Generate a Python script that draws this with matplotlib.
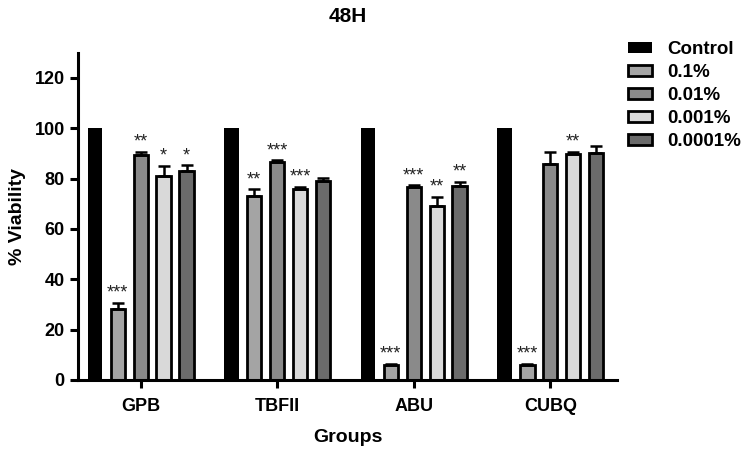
import numpy as np
import matplotlib.pyplot as plt

plt.rcParams['font.family'] = ['Liberation Sans', 'DejaVu Sans']
plt.rcParams['font.weight'] = 'bold'

groups = ['GPB', 'TBFII', 'ABU', 'CUBQ']
series = ['Control', '0.1%', '0.01%', '0.001%', '0.0001%']
colors = ['#000000', '#a4a4a4', '#8a8a8a', '#d9d9d9', '#6b6b6b']

values = [
    [100, 100, 100, 100],
    [28.3, 73.1, 6.0, 6.0],
    [89.3, 86.7, 76.7, 86.0],
    [81.1, 76.0, 69.3, 89.9],
    [82.9, 79.1, 76.9, 90.1],
]
errors = [
    [0, 0, 0, 0],
    [2.4, 2.6, 0.5, 0.5],
    [1.2, 0.6, 0.6, 4.7],
    [4.0, 0.8, 3.4, 0.8],
    [2.4, 1.3, 1.8, 2.9],
]
stars = [
    ['', '', '', ''],
    ['***', '**', '***', '***'],
    ['**', '***', '***', ''],
    ['*', '***', '**', '**'],
    ['*', '', '**', ''],
]

fig = plt.figure(figsize=(7.49, 4.5), dpi=100)
ax = fig.add_axes([0.104, 0.1556, 0.72, 0.727])

x = np.arange(len(groups))
step = 0.168
width = 0.105
for i, name in enumerate(series):
    pos = x + (i - 2) * step
    if i == 0:
        ax.bar(pos, values[i], width, color=colors[i], edgecolor='black',
               linewidth=0, label=name, zorder=2)
    else:
        ax.bar(pos, values[i], width, color=colors[i], edgecolor='black',
               linewidth=2, label=name, zorder=2)
        ax.errorbar(pos, values[i], yerr=[np.zeros(4), errors[i]], fmt='none',
                    ecolor='black', elinewidth=1.8, capsize=4, capthick=1.8,
                    zorder=3)
    for j in range(len(groups)):
        if stars[i][j]:
            ax.text(pos[j], values[i][j] + errors[i][j] + 0.5, stars[i][j],
                    ha='center', va='bottom', fontsize=13, color='#222222',
                    fontweight='normal')

ax.set_xlim(-0.46, 3.49)
ax.set_ylim(0, 130)
ax.set_yticks([0, 20, 40, 60, 80, 100, 120])
ax.set_xticks(x)
ax.set_xticklabels(groups)
for side in ['top', 'right']:
    ax.spines[side].set_visible(False)
for side in ['left', 'bottom']:
    ax.spines[side].set_linewidth(2.2)
ax.tick_params(width=2.2, length=6, labelsize=13)
ax.tick_params(axis='x', pad=7)
ax.set_ylabel('% Viability', fontsize=14, fontweight='bold', labelpad=6)
ax.set_xlabel('Groups', fontsize=14, fontweight='bold', labelpad=10)
ax.set_title('48H', fontsize=15, fontweight='bold', pad=22)

leg = ax.legend(loc='upper left', bbox_to_anchor=(1.02, 1.035), frameon=False,
                fontsize=13.5, handlelength=1.3, handleheight=0.5,
                labelspacing=0.32, handletextpad=0.8, borderpad=0,
                borderaxespad=0)

fig.savefig('out.png', dpi=100)
